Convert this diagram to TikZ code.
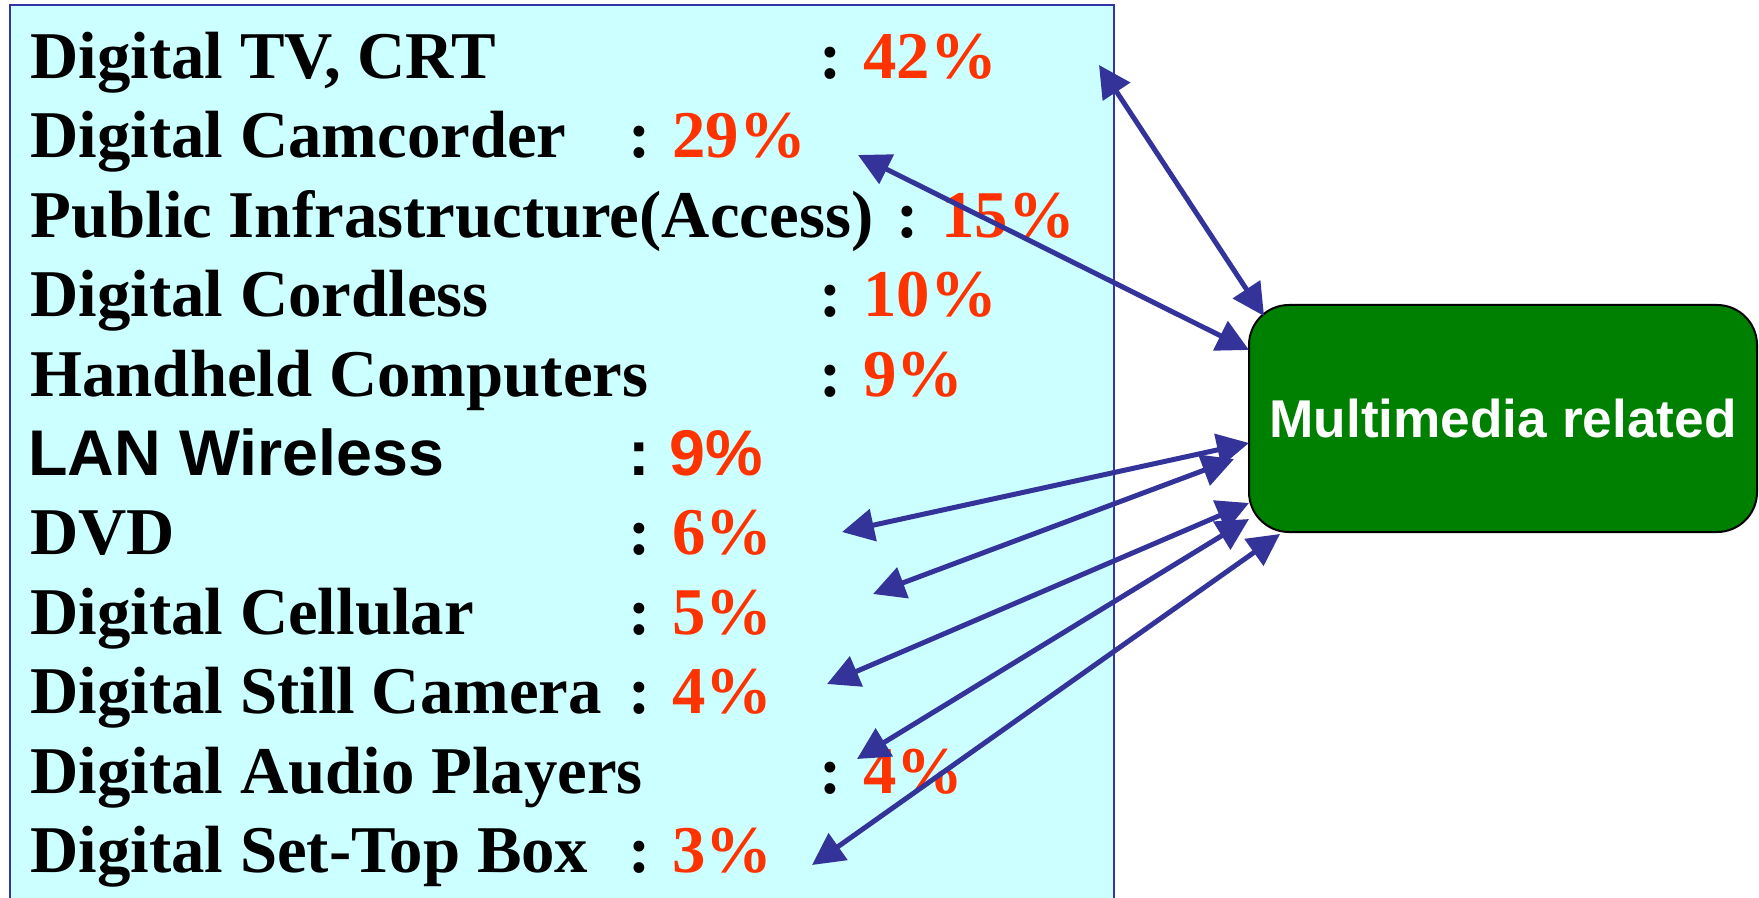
\documentclass[tikz,border=0pt]{standalone}
\usepackage{fontspec}
\setmainfont{Liberation Serif}
\newfontfamily\arialfont{Liberation Sans}
\usetikzlibrary{arrows.meta}
\definecolor{listfill}{HTML}{CCFFFF}
\definecolor{listline}{HTML}{3333AA}
\definecolor{pct}{HTML}{FF3300}
\definecolor{arrowblue}{HTML}{333399}
\definecolor{mmgreen}{HTML}{008000}
\begin{document}
\begin{tikzpicture}[x=0.5pt,y=-0.5pt,
  serifbig/.style={inner sep=0pt, font=\fontsize{33.4}{33.4}\selectfont\bfseries},
  sansbig/.style={inner sep=0pt, font=\fontsize{32.3}{32.3}\selectfont\arialfont\bfseries},
  itemlbl/.style={serifbig, anchor=base west},
  itemcol/.style={serifbig, anchor=base},
  itempct/.style={serifbig, anchor=base west, text=pct},
  sanslbl/.style={sansbig, anchor=base west},
  sanscol/.style={sansbig, anchor=base},
  sanspct/.style={sansbig, anchor=base west, text=pct},
  listbox/.style={draw=listline, fill=listfill, line width=1pt, anchor=north west, inner sep=0pt, minimum width=552pt, minimum height=460pt},
  mmbox/.style={draw=black, fill=mmgreen, line width=1pt, rounded corners=20pt, minimum width=254pt, minimum height=113.5pt, text=white, font=\fontsize{26.6}{26.6}\selectfont\arialfont\bfseries},
  link/.style={draw=arrowblue, line width=2.5pt, {Triangle[length=16pt,width=16pt]}-{Triangle[length=16pt,width=16pt]}}
]
\useasboundingbox (0,0) rectangle (1759,898);
\node[listbox] (list) at (9,4) {};
\node[mmbox] (mm) at (1503,418.5) {Multimedia related};

% rows
\node[itemlbl] (l1) at (30,78.5) {Digital TV, CRT};
\node[itemcol] (c1) at (831,78.5) {:};
\node[itempct] (p1) at (863,78.5) {42\%};

\node[itemlbl] (l2) at (30,157.9) {Digital Camcorder};
\node[itemcol] (c2) at (639.5,157.9) {:};
\node[itempct] (p2) at (672,157.9) {29\%};

\node[itemlbl] (l3) at (30,237.3) {Public Infrastructure(Access)};
\node[itemcol] (c3) at (907.5,237.3) {:};
\node[itempct] (p3) at (941,237.3) {15\%};

\node[itemlbl] (l4) at (30,316.7) {Digital Cordless};
\node[itemcol] (c4) at (831,316.7) {:};
\node[itempct] (p4) at (863,316.7) {10\%};

\node[itemlbl] (l5) at (30,396.1) {Handheld Computers};
\node[itemcol] (c5) at (831,396.1) {:};
\node[itempct] (p5) at (863,396.1) {9\%};

\node[sanslbl] (l6) at (28,475.5) {LAN Wireless};
\node[sanscol] (c6) at (639.5,475.5) {:};
\node[sanspct] (p6) at (669,475.5) {9\%};

\node[itemlbl] (l7) at (30,554.9) {DVD};
\node[itemcol] (c7) at (639.5,554.9) {:};
\node[itempct] (p7) at (672,554.9) {6\%};

\node[itemlbl] (l8) at (30,634.3) {Digital Cellular};
\node[itemcol] (c8) at (639.5,634.3) {:};
\node[itempct] (p8) at (672,634.3) {5\%};

\node[itemlbl] (l9) at (30,713.7) {Digital Still Camera};
\node[itemcol] (c9) at (639.5,713.7) {:};
\node[itempct] (p9) at (672,713.7) {4\%};

\node[itemlbl] (l10) at (30,793.1) {Digital Audio Players};
\node[itemcol] (c10) at (831,793.1) {:};
\node[itempct] (p10) at (863,793.1) {4\%};

\node[itemlbl] (l11) at (30,872.5) {Digital Set-Top Box};
\node[itemcol] (c11) at (639.5,872.5) {:};
\node[itempct] (p11) at (672,872.5) {3\%};

% arrow end points
\coordinate (s1) at (1099,65);  \coordinate (t1) at (1264,316);
\coordinate (s2) at (858,155);  \coordinate (t2) at (1249,350);
\coordinate (s3) at (842,532);  \coordinate (t3) at (1249,443);
\coordinate (s4) at (873,594);  \coordinate (t4) at (1234,459);
\coordinate (s5) at (827,684);  \coordinate (t5) at (1249,503);
\coordinate (s6) at (857,759);  \coordinate (t6) at (1249,519);
\coordinate (s7) at (812,865);  \coordinate (t7) at (1280,534);

\foreach \i in {1,...,7} {
  \draw[link] (s\i) -- (t\i);
}
\end{tikzpicture}
\end{document}
